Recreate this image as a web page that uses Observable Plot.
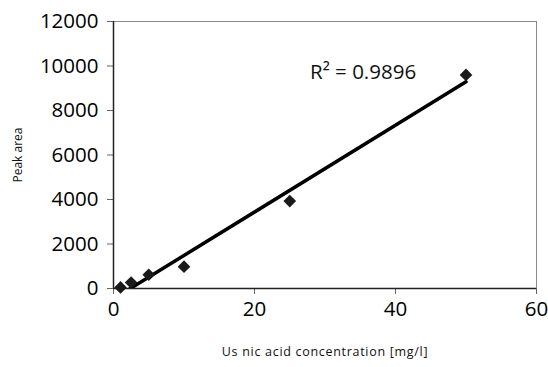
<!DOCTYPE html>
<html>
<head>
<meta charset="utf-8">
<script src="https://cdn.jsdelivr.net/npm/d3@7"></script>
<script src="https://cdn.jsdelivr.net/npm/@observablehq/plot@0.6"></script>
<style>
  html, body { margin: 0; padding: 0; background: #fff; }
  #chart { width: 548px; height: 367px; }
  .xlab text { letter-spacing: 0.7px; }
</style>
</head>
<body>
<div id="chart"></div>
<script>
const concentrations = [1, 2.5, 5, 10, 25, 50];
const peakAreas = [50, 270, 620, 980, 3930, 9600];
const xTicks = [0, 20, 40, 60];
const yTicks = [0, 2000, 4000, 6000, 8000, 10000, 12000];
const r2Label = "R\u00B2 = 0.9896";
const xLabel = "Us nic acid concentration [mg/l]";
const yLabel = "Peak area";

const data = concentrations.map((c, i) => ({x: c, y: peakAreas[i]}));

const chart = Plot.plot({
  width: 548,
  height: 367,
  marginLeft: 113,
  marginRight: 12,
  marginTop: 21,
  marginBottom: 79,
  style: {fontFamily: "'Open Sans', sans-serif", background: "#fff", color: "#000"},
  x: {domain: [0, 60]},
  y: {domain: [0, 12000]},
  marks: [
    Plot.frame({stroke: "#888", strokeWidth: 1}),
    Plot.axisX({ticks: xTicks, tickSize: 6, tickPadding: 7, fontSize: 20.5, stroke: "#666", label: null, tickFormat: d => String(d)}),
    Plot.axisY({ticks: yTicks, tickSize: 6, tickPadding: 9, fontSize: 20.5, stroke: "#666", label: null, tickFormat: d => String(d)}),
    Plot.ruleX([0], {stroke: "#222", strokeWidth: 1.5}),
    Plot.ruleY([0], {stroke: "#222", strokeWidth: 1.5}),
    Plot.linearRegressionY(data, {x: "x", y: "y", ci: 0, stroke: "#000", strokeWidth: 3.5, clip: true}),
    Plot.dot(data, {x: "x", y: "y", symbol: "diamond2", r: 5.7, fill: "#1a1a1a", stroke: "none"}),
    Plot.text([r2Label], {x: 35.4, y: 9690, text: d => d, fontSize: 20.5, fill: "#111"}),
    Plot.text([xLabel], {frameAnchor: "bottom", dy: 67, text: d => d, fontSize: 12.5, fill: "#111", className: "xlab"}),
    Plot.text([yLabel], {frameAnchor: "left", textAnchor: "middle", dx: -95, rotate: -90, text: d => d, fontSize: 12, fill: "#111"})
  ]
});
document.getElementById("chart").appendChild(chart);
</script>
</body>
</html>
